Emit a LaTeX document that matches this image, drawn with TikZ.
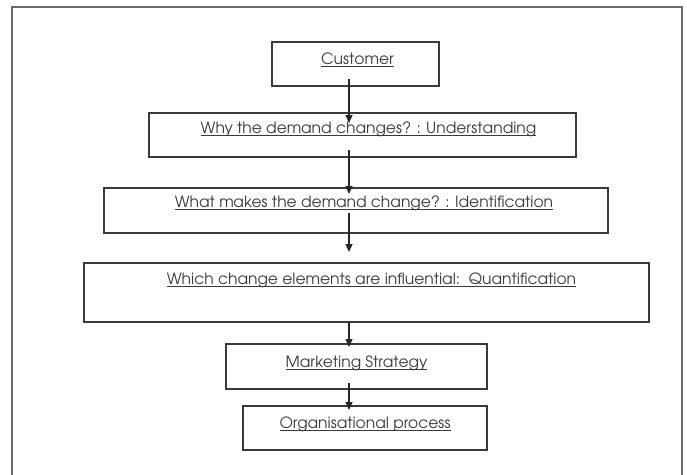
\documentclass[tikz,border=0pt]{standalone}
\usepackage[T1]{fontenc}
\usepackage{avant}
\renewcommand{\familydefault}{\sfdefault}
\usetikzlibrary{arrows.meta}
\definecolor{inkc}{HTML}{3A3A3A}
\definecolor{framec}{HTML}{6A6A6A}
\newcommand{\ulx}[1]{\setbox0\hbox{#1}\rlap{\rule[-3pt]{\wd0}{0.8pt}}\box0}
\tikzset{
  boxn/.style={draw=inkc, line width=1.1pt, inner sep=0pt, outer sep=0pt, rectangle},
  txtn/.style={anchor=base, inner sep=0pt, text=inkc, font=\fontsize{15.5}{17}\selectfont},
  arr/.style={draw=black!85, line width=1.2pt, -{Triangle[length=8pt,width=7pt]}}
}
\begin{document}
\begin{tikzpicture}[x=1pt,y=-1pt]
\useasboundingbox (0,0) rectangle (687,474);
\draw[framec, line width=1.8pt] (12,480) -- (12,7) -- (682,7) -- (682,480);
\coordinate (ax) at (349,0);
\node[boxn, minimum width=167pt, minimum height=44pt] (c) at (355.5,64) {};
\node[boxn, minimum width=427pt, minimum height=44pt] (b2) at (362.5,135) {};
\node[boxn, minimum width=504pt, minimum height=45pt] (b3) at (356,210.5) {};
\node[boxn, minimum width=565pt, minimum height=59pt] (b4) at (366.5,292.5) {};
\node[boxn, minimum width=261pt, minimum height=45pt] (b5) at (356.5,366.5) {};
\node[boxn, minimum width=244pt, minimum height=44pt] (b6) at (365,428) {};
\node[txtn] (t1) at ([xshift=2pt,yshift=-22pt]c.north) {\ulx{Customer}};
\node[txtn] (t2) at ([xshift=6pt,yshift=-20pt]b2.north) {\ulx{Why the demand changes? : Understanding}};
\node[txtn] (t3) at ([xshift=8pt,yshift=-19pt]b3.north) {\ulx{What makes the demand change? : Identification}};
\node[txtn] (t4) at ([xshift=5pt,yshift=-21pt]b4.north) {\ulx{Which change elements are influential:\ \ Quantification}};
\node[txtn] (t5) at ([yshift=-23pt]b5.north) {\ulx{Marketing Strategy}};
\node[txtn] (t6) at ([yshift=-22pt]b6.north) {\ulx{Organisational process}};
\draw[arr] ([yshift=7pt]c.south -| ax) -- ([yshift=-10pt]b2.north -| ax);
\draw[arr] ([yshift=7pt]b2.south -| ax) -- ([yshift=-6pt]b3.north -| ax);
\draw[arr] ([yshift=20pt]b3.south -| ax) -- ([yshift=11pt]b4.north -| ax);
\draw[arr] (b4.south -| ax) -- ([yshift=-3pt]b5.north -| ax);
\draw[arr] ([yshift=6pt]b5.south -| ax) -- ([yshift=-4pt]b6.north -| ax);
\end{tikzpicture}
\end{document}
